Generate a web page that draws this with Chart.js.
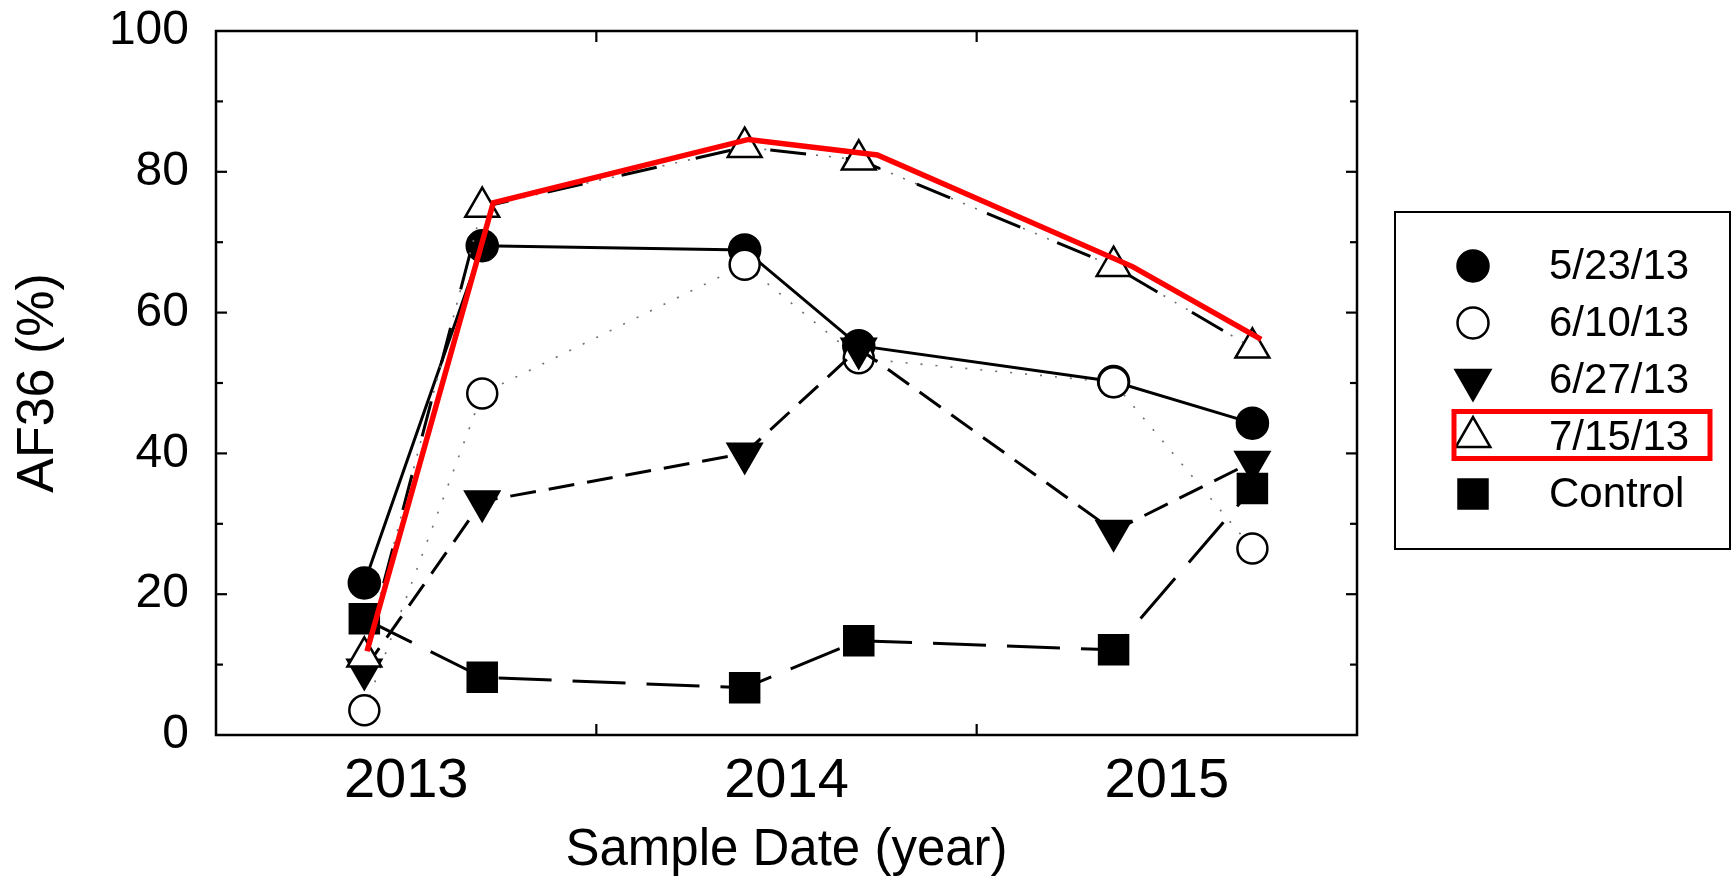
<!DOCTYPE html>
<html>
<head>
<meta charset="utf-8">
<script src="https://cdn.jsdelivr.net/npm/chart.js@4.4.1/dist/chart.umd.min.js"></script>
<style>
  html, body { margin: 0; padding: 0; background: #ffffff; }
  #wrap { width: 1733px; height: 880px; }
</style>
</head>
<body>
<div id="wrap"><canvas id="c" width="1733" height="880"></canvas></div>
<script>
// ---------------- data ----------------
const sampleYears = [2013.39, 2013.70, 2014.39, 2014.69, 2015.36, 2015.725];
const seriesLabels = ['5/23/13', '6/10/13', '6/27/13', '7/15/13', 'Control'];
const s0523 = [21.6, 69.5, 68.9, 55.3, 50.2, 44.3];
const s0610 = [3.5, 48.5, 66.8, 53.5, 50.1, 26.5];
const s0627 = [9.3, 33.2, 40.0, 54.9, 29.0, 38.8];
const s0715 = [11.1, 75.0, 83.5, 81.7, 66.6, 55.0];
const sControl = [16.5, 8.2, 6.7, 13.4, 12.1, 35.0];
// red highlight line drawn over the 7/15/13 series
const highlightX = [2013.397, 2013.729, 2014.400, 2014.739, 2015.411, 2015.748];
const highlightY = [11.9, 75.6, 84.6, 82.4, 66.5, 56.2];
// axes
const xTickPositions = [2013.5, 2014.5, 2015.5];
const xTickLabels = ['2013', '2014', '2015'];
const xYearBoundaries = [2014, 2015];
const yMinorValues = [10, 30, 50, 70, 90];
const yMajorValues = [20, 40, 60, 80];
const highlightedLegendItem = '7/15/13';

const FONT = "'Liberation Sans', Arial, Helvetica, sans-serif";
const pts = (xs, ys) => xs.map((x, i) => ({ x: x, y: ys[i] }));

const datasets = [
  { label: seriesLabels[0], data: pts(sampleYears, s0523), borderColor: '#000', borderWidth: 3,
    pointStyle: 'circle', pointRadius: 15.5, pointBackgroundColor: '#000', pointBorderColor: '#000',
    pointBorderWidth: 2.5, order: 7, legendFill: '#000', legendRadius: 15.5 },
  { label: seriesLabels[1], data: pts(sampleYears, s0610), borderColor: '#6f6f6f', borderWidth: 1.6,
    borderDash: [2, 13], pointStyle: 'circle', pointRadius: 15, pointBackgroundColor: '#fff',
    pointBorderColor: '#000', pointBorderWidth: 2.5, order: 6, legendFill: '#fff', legendRadius: 15.5 },
  { label: seriesLabels[2], data: pts(sampleYears, s0627), borderColor: '#000', borderWidth: 3,
    borderDash: [26, 13], pointStyle: 'triangle', pointRotation: 180, pointRadius: 19.5,
    pointBackgroundColor: '#000', pointBorderColor: '#000', pointBorderWidth: 2.5, order: 5,
    legendFill: '#000', legendRadius: 20, legendRotation: 180 },
  { label: seriesLabels[3] + ' dots', data: pts(sampleYears, s0715), borderColor: '#6f6f6f', borderWidth: 1.6,
    borderDash: [2, 11], pointRadius: 0, order: 4.5, hideFromLegend: true },
  { label: seriesLabels[3], data: pts(sampleYears, s0715), borderColor: '#000', borderWidth: 3,
    borderDash: [36, 40], pointStyle: 'triangle', pointRadius: 19.5, pointBackgroundColor: '#fff',
    pointBorderColor: '#000', pointBorderWidth: 2.5, order: 4, legendFill: '#fff', legendRadius: 20 },
  { label: seriesLabels[4], data: pts(sampleYears, sControl), borderColor: '#000', borderWidth: 3,
    borderDash: [53, 21], pointStyle: 'rect', pointRadius: 20.5, pointBackgroundColor: '#000',
    pointBorderColor: '#000', pointBorderWidth: 2.5, order: 3, legendFill: '#000', legendRadius: 20.5 },
  { label: 'highlight', data: pts(highlightX, highlightY), borderColor: '#ff0000', borderWidth: 5.5,
    pointRadius: 0, order: 1, hideFromLegend: true, borderJoinStyle: 'miter' }
];
datasets.forEach(d => { d.tension = 0; d.fill = false; d.borderCapStyle = 'butt'; });

function drawMarker(ctx, style, x, y, r, fill, rot) {
  ctx.beginPath();
  if (style === 'circle') {
    ctx.arc(x, y, r, 0, Math.PI * 2);
  } else if (style === 'triangle') {
    let a = (rot || 0) * Math.PI / 180;
    for (let k = 0; k < 3; k++) {
      const px = x + Math.sin(a) * r, py = y - Math.cos(a) * r;
      if (k === 0) ctx.moveTo(px, py); else ctx.lineTo(px, py);
      a += 2 * Math.PI / 3;
    }
    ctx.closePath();
  } else {
    const s = r * Math.SQRT1_2;
    ctx.rect(x - s, y - s, 2 * s, 2 * s);
  }
  ctx.fillStyle = fill; ctx.fill();
  ctx.lineWidth = 2.5; ctx.strokeStyle = '#000'; ctx.lineJoin = 'miter'; ctx.stroke();
}

const frameAndLegend = {
  id: 'frameAndLegend',
  afterDatasetsDraw(chart) {
    const { ctx, chartArea: a, scales: { x, y } } = chart;
    ctx.save();
    ctx.strokeStyle = '#000';
    ctx.lineWidth = 2.5;
    ctx.strokeRect(a.left, a.top, a.right - a.left, a.bottom - a.top);
    ctx.lineWidth = 2.2;
    const seg = (x1, y1, x2, y2) => { ctx.beginPath(); ctx.moveTo(x1, y1); ctx.lineTo(x2, y2); ctx.stroke(); };
    yMinorValues.forEach(v => { const p = y.getPixelForValue(v); seg(a.left, p, a.left + 7, p); seg(a.right, p, a.right - 7, p); });
    yMajorValues.forEach(v => { const p = y.getPixelForValue(v); seg(a.left, p, a.left + 11, p); seg(a.right, p, a.right - 11, p); });
    xYearBoundaries.forEach(v => { const p = x.getPixelForValue(v); seg(p, a.bottom, p, a.bottom - 11); seg(p, a.top, p, a.top + 11); });
    ctx.restore();
  },
  afterDraw(chart) {
    const ctx = chart.ctx;
    const box = { left: 1395, top: 212, right: 1730, bottom: 549 };
    const markerX = 1473, textX = 1549, firstRow = 266, rowStep = 57;
    ctx.save();
    ctx.strokeStyle = '#000';
    ctx.lineWidth = 2;
    ctx.strokeRect(box.left, box.top, box.right - box.left, box.bottom - box.top);
    const items = chart.data.datasets.filter(d => !d.hideFromLegend);
    ctx.font = '42px ' + FONT;
    ctx.textBaseline = 'middle';
    ctx.textAlign = 'left';
    items.forEach((d, i) => {
      const yy = firstRow + i * rowStep;
      drawMarker(ctx, d.pointStyle, markerX, yy, d.legendRadius, d.legendFill, d.legendRotation || 0);
      ctx.fillStyle = '#000';
      ctx.fillText(d.label, textX, yy + 1);
      if (d.label === highlightedLegendItem) {
        ctx.strokeStyle = '#ff0000';
        ctx.lineWidth = 5;
        ctx.strokeRect(1454, yy - 25.5, 256, 47);
        ctx.strokeStyle = '#000';
      }
    });
    ctx.restore();
  }
};

new Chart(document.getElementById('c'), {
  type: 'line',
  data: { datasets: datasets },
  plugins: [frameAndLegend],
  options: {
    responsive: false,
    animation: false,
    events: [],
    layout: { padding: { left: 0, top: 31, right: 376, bottom: 0 } },
    plugins: { legend: { display: false }, tooltip: { enabled: false } },
    scales: {
      x: {
        type: 'linear', min: 2013, max: 2016,
        grid: { display: false, drawTicks: false },
        border: { display: false },
        afterBuildTicks: (scale) => { scale.ticks = xTickPositions.map(v => ({ value: v })); },
        afterFit: (scale) => { scale.height = 145; scale.paddingLeft = 0; scale.paddingRight = 0; },
        ticks: {
          autoSkip: false, maxRotation: 0, minRotation: 0, padding: 13,
          color: '#000', font: { family: FONT, size: 56 },
          callback: (v) => xTickLabels[xTickPositions.indexOf(v)]
        },
        title: { display: true, text: 'Sample Date (year)', color: '#000',
                 font: { family: FONT, size: 51, lineHeight: 1.125 }, padding: { top: 0, bottom: 0 } }
      },
      y: {
        min: 0, max: 100,
        grid: { display: false, drawTicks: false },
        border: { display: false },
        afterFit: (scale) => { scale.width = 216; scale.paddingTop = 0; scale.paddingBottom = 0; },
        ticks: { stepSize: 20, padding: 27, color: '#000', font: { family: FONT, size: 48 } },
        title: { display: true, text: 'AF36 (%)', color: '#000',
                 font: { family: FONT, size: 52, lineHeight: 1.2 }, padding: { top: 7, bottom: 0 } }
      }
    }
  }
});
</script>
</body>
</html>
